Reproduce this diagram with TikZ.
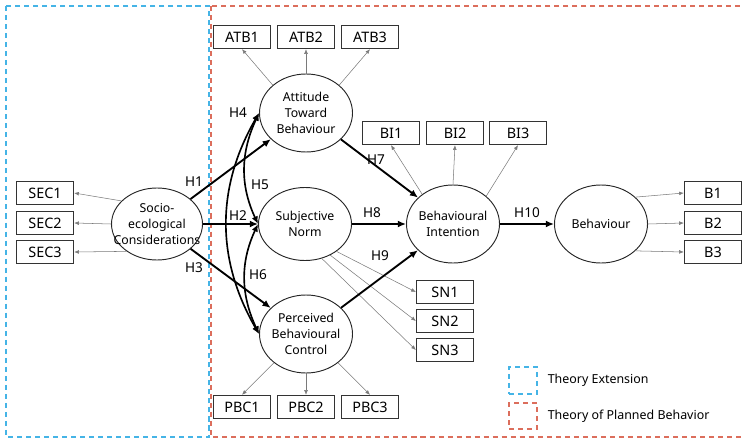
\documentclass[tikz,border=0pt]{standalone}
\usepackage{fontspec}
\setsansfont{Noto Sans}
\usetikzlibrary{arrows.meta,positioning,shapes.geometric}
\definecolor{extblue}{HTML}{45B4E6}
\definecolor{tpbred}{HTML}{DC6E5C}
\definecolor{boxc}{HTML}{333333}
\definecolor{loadc}{HTML}{7A7A7A}

\begin{document}
\begin{tikzpicture}[x=0.3mm, y=-0.3mm, font=\sffamily, >=Latex, node distance=2mm]
\useasboundingbox (0,0) rectangle (744,440);
\tikzset{
  latent/.style={ellipse, draw=black!85, line width=0.8pt, minimum width=27.9mm, minimum height=23.4mm, inner sep=0pt},
  lbl/.style={align=center, inner sep=0pt, font=\sffamily\fontsize{10.5}{13.6}\selectfont},
  item/.style={draw=boxc, line width=1.1pt, minimum width=17.1mm, minimum height=6.9mm, inner sep=0pt, font=\sffamily\fontsize{12.3}{14}\selectfont},
  load/.style={-{Latex[length=4pt,width=3.2pt]}, loadc, line width=0.45pt},
  hyp/.style={-{Latex[length=7pt,width=6pt]}, line width=1.6pt},
  hcor/.style={{Latex[length=6.5pt,width=5.5pt]}-{Latex[length=6.5pt,width=5.5pt]}, line width=1.4pt},
  hlab/.style={inner sep=1pt, font=\sffamily\fontsize{11.6}{13}\selectfont},
  frame/.style={line width=1pt, dash pattern=on 4.3pt off 3.4pt},
  keytext/.style={inner sep=0pt, font=\sffamily\fontsize{10.6}{12}\selectfont}
}
% theory frames
\draw[frame, extblue] (6,6) rectangle (209,437);
\draw[frame, tpbred] (211,6) rectangle (748,437);

% constructs
\node[latent, minimum width=27.3mm, minimum height=21.6mm] (soc) at (157,224) {};
\node[latent] (att) at (306,113) {};
\node[latent, minimum height=21.9mm] (sn) at (305,224) {};
\node[latent] (pbc) at (306,334) {};
\node[latent] (bi) at (453,224) {};
\node[latent] (beh) at (601,224) {};
\foreach \n/\t in {soc/{Socio-\\ecological\\Considerations}, att/{Attitude\\Toward\\Behaviour}, sn/{Subjective\\Norm}, pbc/{Perceived\\Behavioural\\Control}, bi/{Behavioural\\Intention}, beh/{Behaviour}}{\node[lbl] (\n-t) at (\n) {\t};}

% indicators
\foreach \n/\t/\x/\y in {atb1/ATB1/242/37, atb2/ATB2/306/37, atb3/ATB3/370/37, bi1/BI1/391/133, bi2/BI2/455/133, bi3/BI3/518/133, sn1/SN1/445/292, sn2/SN2/445/321, sn3/SN3/445/350, pbc1/PBC1/242/407, pbc2/PBC2/306/407, pbc3/PBC3/370/407, sec1/SEC1/45/193, sec2/SEC2/45/223, sec3/SEC3/45/252, b1/B1/713/193, b2/B2/713/223, b3/B3/713/252}{\node[item] (\n) at (\x,\y) {\t};}
\foreach \a/\b in {att.140/atb1.south, att.north/atb2.south, att.40/atb3.south, bi.136/bi1.south, bi.north/bi2.south, bi.40/bi3.south, sn.-41/sn1.west, sn.-51/sn2.west, sn.-64/sn3.west, pbc.222/pbc1.north, pbc.south/pbc2.north, pbc.-42/pbc3.north, soc.147/sec1.east, soc.west/sec2.east, soc.-138/sec3.east, beh.38/b1.west, beh.east/b2.west, beh.-38/b3.west}{\draw[load] (\a) -- (\b);}

% hypotheses
\foreach \a/\b in {soc/att, soc/sn, soc/pbc, att/bi, sn/bi, pbc/bi, bi/beh}{\draw[hyp] (\a) -- (\b);}
\draw[hcor] (att.west) to[out=240,in=120] (pbc.west);
\draw[hcor] (att.west) to[out=245,in=115] (sn.west);
\draw[hcor] (sn.west) to[out=245,in=115] (pbc.west);
\foreach \n/\x/\y in {1/194/182, 2/238/216, 3/194/268, 4/238/113, 5/260/185, 6/258/275, 7/376/160, 8/372/213, 9/380/256, 10/527/213}{\node[hlab] (h\n) at (\x,\y) {H\n};}

% legend
\node[frame, draw=extblue, minimum width=8.4mm, minimum height=8.1mm] (keyext) at (523,380.5) {};
\node[frame, draw=tpbred, minimum width=8.4mm, minimum height=7.8mm] (keytpb) at (523,416) {};
\node[keytext, right=3mm of keyext] (keyext-t) {Theory Extension};
\node[keytext, right=3mm of keytpb] (keytpb-t) {Theory of Planned Behavior};
\end{tikzpicture}
\end{document}
